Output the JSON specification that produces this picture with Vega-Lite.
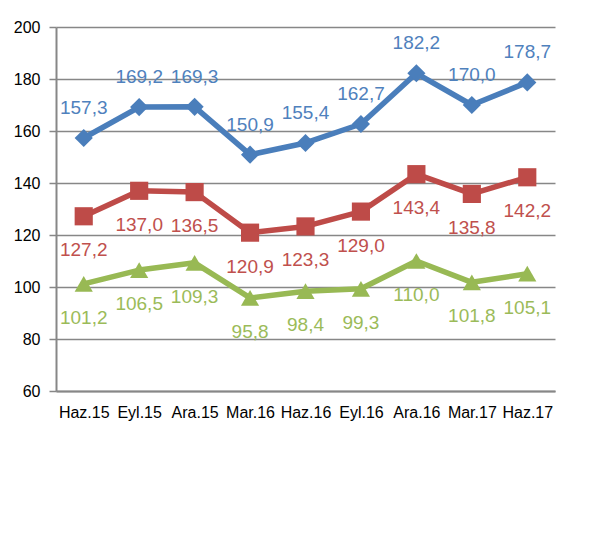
{
  "$schema": "https://vega.github.io/schema/vega-lite/v6.json",
  "autosize": {"type": "none"},
  "width": 499,
  "height": 364,
  "padding": {"left": 56, "top": 27, "right": 36, "bottom": 152},
  "background": "white",
  "config": {
    "font": "Liberation Sans",
    "view": {"stroke": null},
    "axis": {"gridColor": "#878787", "gridWidth": 1.5, "domainColor": "#878787", "domainWidth": 2, "tickColor": "#878787", "tickWidth": 1.5, "labelColor": "#000000", "labelFontSize": 16, "title": null},
    "legend": {"labelFontSize": 16, "labelColor": "#000000", "labelLimit": 400, "rowPadding": 4, "padding": 5, "symbolSize": 140,
      "strokeColor": "#4f81bd", "fillColor": "#c3d7f8"}
  },
  "data": {"values": [
    {"period": "Haz.15", "series": "Toplam Aktifler / GSYH (1)", "value": 157.3, "label": "157,3"},
    {"period": "Eyl.15", "series": "Toplam Aktifler / GSYH (1)", "value": 169.2, "label": "169,2"},
    {"period": "Ara.15", "series": "Toplam Aktifler / GSYH (1)", "value": 169.3, "label": "169,3"},
    {"period": "Mar.16", "series": "Toplam Aktifler / GSYH (1)", "value": 150.9, "label": "150,9"},
    {"period": "Haz.16", "series": "Toplam Aktifler / GSYH (1)", "value": 155.4, "label": "155,4"},
    {"period": "Eyl.16", "series": "Toplam Aktifler / GSYH (1)", "value": 162.7, "label": "162,7"},
    {"period": "Ara.16", "series": "Toplam Aktifler / GSYH (1)", "value": 182.2, "label": "182,2"},
    {"period": "Mar.17", "series": "Toplam Aktifler / GSYH (1)", "value": 170.0, "label": "170,0"},
    {"period": "Haz.17", "series": "Toplam Aktifler / GSYH (1)", "value": 178.7, "label": "178,7"},
    {"period": "Haz.15", "series": "Toplam Mevduat / GSYH (1)", "value": 127.2, "label": "127,2"},
    {"period": "Eyl.15", "series": "Toplam Mevduat / GSYH (1)", "value": 137.0, "label": "137,0"},
    {"period": "Ara.15", "series": "Toplam Mevduat / GSYH (1)", "value": 136.5, "label": "136,5"},
    {"period": "Mar.16", "series": "Toplam Mevduat / GSYH (1)", "value": 120.9, "label": "120,9"},
    {"period": "Haz.16", "series": "Toplam Mevduat / GSYH (1)", "value": 123.3, "label": "123,3"},
    {"period": "Eyl.16", "series": "Toplam Mevduat / GSYH (1)", "value": 129.0, "label": "129,0"},
    {"period": "Ara.16", "series": "Toplam Mevduat / GSYH (1)", "value": 143.4, "label": "143,4"},
    {"period": "Mar.17", "series": "Toplam Mevduat / GSYH (1)", "value": 135.8, "label": "135,8"},
    {"period": "Haz.17", "series": "Toplam Mevduat / GSYH (1)", "value": 142.2, "label": "142,2"},
    {"period": "Haz.15", "series": "Toplam Brüt Krediler / GSYH (1)", "value": 101.2, "label": "101,2"},
    {"period": "Eyl.15", "series": "Toplam Brüt Krediler / GSYH (1)", "value": 106.5, "label": "106,5"},
    {"period": "Ara.15", "series": "Toplam Brüt Krediler / GSYH (1)", "value": 109.3, "label": "109,3"},
    {"period": "Mar.16", "series": "Toplam Brüt Krediler / GSYH (1)", "value": 95.8, "label": "95,8"},
    {"period": "Haz.16", "series": "Toplam Brüt Krediler / GSYH (1)", "value": 98.4, "label": "98,4"},
    {"period": "Eyl.16", "series": "Toplam Brüt Krediler / GSYH (1)", "value": 99.3, "label": "99,3"},
    {"period": "Ara.16", "series": "Toplam Brüt Krediler / GSYH (1)", "value": 110.0, "label": "110,0"},
    {"period": "Mar.17", "series": "Toplam Brüt Krediler / GSYH (1)", "value": 101.8, "label": "101,8"},
    {"period": "Haz.17", "series": "Toplam Brüt Krediler / GSYH (1)", "value": 105.1, "label": "105,1"}
  ]},
  "encoding": {
    "x": {"field": "period", "type": "ordinal", "sort": null, "scale": {"type": "point", "padding": 0.5},
      "axis": {"ticks": false, "grid": false, "labelAngle": 0, "labelPadding": 13, "domainWidth": 2}},
    "y": {"field": "value", "type": "quantitative", "scale": {"domain": [60, 200], "nice": false, "zero": false},
      "axis": {"values": [60, 80, 100, 120, 140, 160, 180, 200], "tickSize": 7, "labelPadding": 9, "grid": true}}
  },
  "layer": [
    {
      "mark": {"type": "line", "strokeWidth": 5.5, "strokeJoin": "round", "strokeCap": "round"},
      "encoding": {
        "stroke": {"field": "series", "type": "nominal", "legend": null,
          "scale": {"domain": ["Toplam Aktifler / GSYH (1)", "Toplam Mevduat / GSYH (1)", "Toplam Brüt Krediler / GSYH (1)"], "range": ["#4a7ebb", "#be4b48", "#98b954"]}}
      }
    },
    {
      "mark": {"type": "point", "filled": true, "opacity": 1, "size": 330},
      "encoding": {
        "color": {"field": "series", "type": "nominal", "title": null,
          "scale": {"domain": ["Toplam Aktifler / GSYH (1)", "Toplam Mevduat / GSYH (1)", "Toplam Brüt Krediler / GSYH (1)"], "range": ["#4a7ebb", "#be4b48", "#98b954"]},
          "legend": {"orient": "none", "legendX": 1, "legendY": 423, "symbolOffset": 110}},
        "shape": {"field": "series", "type": "nominal", "title": null,
          "scale": {"domain": ["Toplam Aktifler / GSYH (1)", "Toplam Mevduat / GSYH (1)", "Toplam Brüt Krediler / GSYH (1)"], "range": ["diamond", "square", "triangle-up"]},
          "legend": {"orient": "none", "legendX": 1, "legendY": 423, "symbolOffset": 110}}
      }
    },
    {
      "transform": [{"filter": "datum.series == 'Toplam Aktifler / GSYH (1)'"}],
      "mark": {"type": "text", "fontSize": 19, "dy": -30, "color": "#4f81bd"},
      "encoding": {"text": {"field": "label", "type": "nominal"}}
    },
    {
      "transform": [{"filter": "datum.series == 'Toplam Mevduat / GSYH (1)'"}],
      "mark": {"type": "text", "fontSize": 19, "dy": 34, "color": "#c0504d"},
      "encoding": {"text": {"field": "label", "type": "nominal"}}
    },
    {
      "transform": [{"filter": "datum.series == 'Toplam Brüt Krediler / GSYH (1)'"}],
      "mark": {"type": "text", "fontSize": 19, "dy": 34, "color": "#9bbb59"},
      "encoding": {"text": {"field": "label", "type": "nominal"}}
    }
  ]
}
